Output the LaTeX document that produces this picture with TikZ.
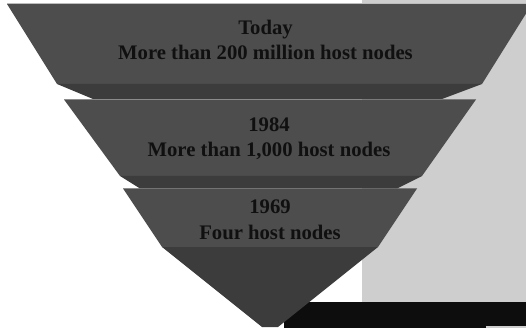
\documentclass[tikz,border=0pt]{standalone}
\usepackage{fontspec}
\setmainfont{Liberation Serif}
\definecolor{facegray}{HTML}{4D4D4D}
\definecolor{bandgray}{HTML}{3C3C3C}
\definecolor{bggray}{HTML}{CECECE}
\definecolor{blackbar}{HTML}{0D0D0D}
\definecolor{txt}{HTML}{101010}
\tikzset{
  face/.style={fill=facegray, draw=none},
  band/.style={fill=bandgray, draw=none},
  lbl/.style={anchor=base, inner sep=0pt, text=txt, font=\fontsize{20.7}{25}\selectfont\bfseries}
}
\begin{document}
\begin{tikzpicture}[x=1pt,y=-1pt]
\useasboundingbox (0,0) rectangle (526,328);
\fill[white] (0,0) rectangle (526,328);
% background panels
\fill[bggray] (362,0) rectangle (526,302);
\fill[blackbar] (284,302) rectangle (526,328);
\fill[bggray] (486,326) rectangle (526,328);
\draw[bggray, line width=1pt] (7,3.5) -- (526,3.5);
% section 1
\fill[face] (7,4) -- (532,4) -- (482,84) -- (57,84) -- cycle;
\fill[band] (57,84) -- (482,84) -- (442,99) -- (93,99) -- cycle;
% section 2
\fill[face] (64,99.5) -- (476,99.5) -- (422,176) -- (120,176) -- cycle;
\fill[band] (120,176) -- (422,176) -- (397,188.5) -- (140,188.5) -- cycle;
% section 3
\fill[face] (123,188.5) -- (417,188.5) -- (378,247) -- (162,247) -- cycle;
\fill[band] (162,247) -- (378,247) -- (278,327) -- (262,327) -- cycle;
% labels
\node[lbl] (t1a) at (265.5,35) {Today};
\node[lbl] (t1b) at (265.5,60) {More than 200 million host nodes};
\node[lbl] (t2a) at (269,132) {1984};
\node[lbl] (t2b) at (269,157) {More than 1,000 host nodes};
\node[lbl] (t3a) at (270,214) {1969};
\node[lbl] (t3b) at (270,239) {Four host nodes};
\end{tikzpicture}
\end{document}
